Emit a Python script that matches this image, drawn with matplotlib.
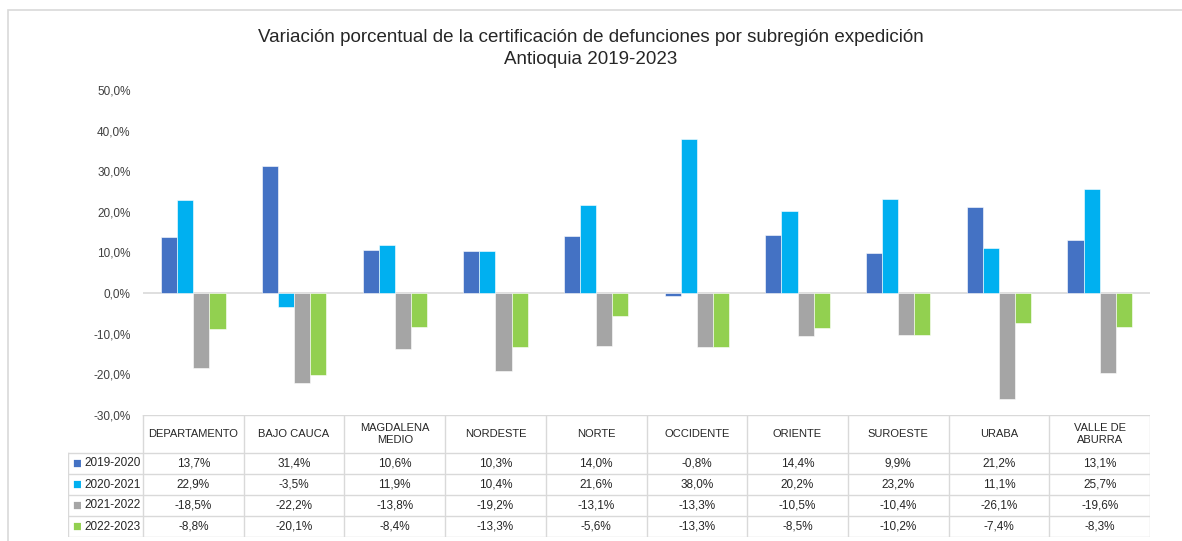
import matplotlib.pyplot as plt
import matplotlib.patches as mpatches

plt.rcParams['font.family'] = ['Liberation Sans', 'DejaVu Sans']

regiones = ["DEPARTAMENTO", "BAJO CAUCA", "MAGDALENA\nMEDIO", "NORDESTE", "NORTE",
            "OCCIDENTE", "ORIENTE", "SUROESTE", "URABA", "VALLE DE\nABURRA"]
periodos = ["2019-2020", "2020-2021", "2021-2022", "2022-2023"]
v_2019_2020 = [13.7, 31.4, 10.6, 10.3, 14.0, -0.8, 14.4, 9.9, 21.2, 13.1]
v_2020_2021 = [22.9, -3.5, 11.9, 10.4, 21.6, 38.0, 20.2, 23.2, 11.1, 25.7]
v_2021_2022 = [-18.5, -22.2, -13.8, -19.2, -13.1, -13.3, -10.5, -10.4, -26.1, -19.6]
v_2022_2023 = [-8.8, -20.1, -8.4, -13.3, -5.6, -13.3, -8.5, -10.2, -7.4, -8.3]
series = [v_2019_2020, v_2020_2021, v_2021_2022, v_2022_2023]
colores = ["#4472C4", "#00B0F0", "#A5A5A5", "#92D050"]

W, H = 1182, 541
fig = plt.figure(figsize=(W / 100, H / 100), dpi=100)

# marco del grafico
fig.add_artist(mpatches.Rectangle((8 / W, -0.1), 1.2, 1 - 10 / H + 0.1, transform=fig.transFigure,
                                  fill=False, edgecolor="#D9D9D9", lw=1.2))

x0, x1 = 143, 1150
ax = fig.add_axes([x0 / W, 1 - 415 / H, (x1 - x0) / W, (415 - 90) / H])
n = len(regiones)
bw = 0.16
for k, vals in enumerate(series):
    xs = [i + (k - 1.5) * bw for i in range(n)]
    ax.bar(xs, vals, width=bw, color=colores[k], edgecolor="white", linewidth=0.4, label=periodos[k])
ax.axhline(0, color="#D9D9D9", lw=1.2, zorder=0)
ax.set_xlim(-0.5, n - 0.5)
ax.set_ylim(-30, 50)
ax.set_yticks(range(-30, 51, 10))
ax.set_yticklabels([f"{t:.1f}%".replace(".", ",") for t in range(-30, 51, 10)], fontsize=8.5, color="#404040")
ax.tick_params(axis="y", length=0, pad=9)
ax.set_xticks([])
for s in ax.spines.values():
    s.set_visible(False)

fig.text(0.5, 1 - 37 / H, "Variación porcentual de la certificación de defunciones por subregión expedición",
         ha="center", va="center", fontsize=13.5, color="#262626")
fig.text(0.5, 1 - 60 / H, "Antioquia 2019-2023", ha="center", va="center", fontsize=13.5, color="#262626")

# tabla de datos
colw = (x1 - x0) / n
lab_w = (x0 - 68) / colw
tab = fig.add_axes([68 / W, 1 - 537 / H, (x1 - 68) / W, (537 - 415) / H])
tab.set_xlim(-0.5 - lab_w, n - 0.5)
tab.set_ylim(0, 122)
tab.axis("off")
grid = "#D9D9D9"
row_edges = [122, 84, 63, 42, 21, 0]
# lineas horizontales
tab.plot([-0.5, n - 0.5], [122, 122], color=grid, lw=1)
for y in row_edges[1:]:
    tab.plot([-0.5 - lab_w, n - 0.5], [y, y], color=grid, lw=1)
# lineas verticales
tab.plot([-0.5 - lab_w] * 2, [0, 84], color=grid, lw=1)
for i in range(n + 1):
    tab.plot([i - 0.5] * 2, [0, 122], color=grid, lw=1)

for i, r in enumerate(regiones):
    tab.text(i, 103, r, ha="center", va="center", fontsize=8, color="#262626", linespacing=1.2)
for k, vals in enumerate(series):
    yc = (row_edges[k + 1] + row_edges[k + 2]) / 2
    tab.text(-0.5 - lab_w + 0.04, yc, "■", ha="left", va="center", fontsize=10.5, color=colores[k])
    tab.text(-0.5 - lab_w + 0.16, yc, periodos[k], ha="left", va="center", fontsize=8.5, color="#262626")
    for i, v in enumerate(vals):
        tab.text(i, yc, f"{v:.1f}%".replace(".", ","), ha="center", va="center", fontsize=8.5, color="#262626")

fig.savefig("out.png", dpi=100)
